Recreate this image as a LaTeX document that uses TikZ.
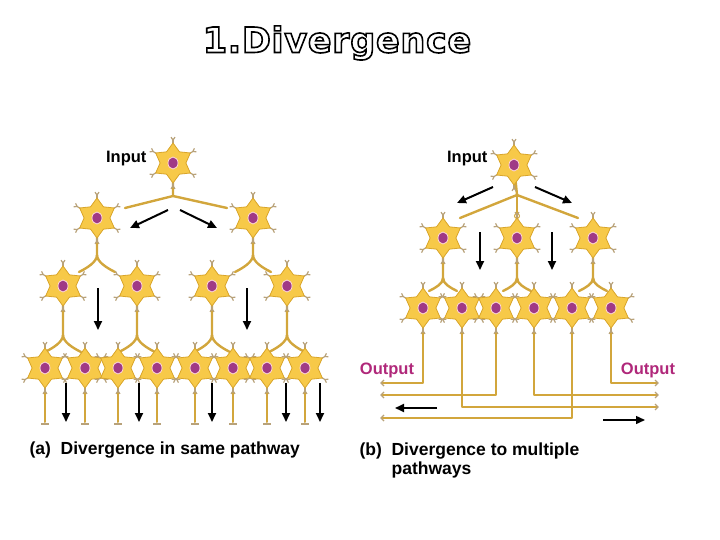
\documentclass[tikz,border=0pt]{standalone}
\usepackage{fontspec}
\setmainfont{Liberation Sans}
\newfontfamily\titlefont[LetterSpace=2]{DejaVu Sans}
\usetikzlibrary{shapes.geometric,arrows.meta}
\definecolor{cell}{HTML}{F7C948}
\definecolor{cellrim}{HTML}{D9A52A}
\definecolor{axon}{HTML}{D2A63C}
\definecolor{nuc}{HTML}{A03A86}
\definecolor{dend}{HTML}{B8A27A}
\definecolor{outc}{HTML}{B0287A}
\tikzset{
  ax/.style={draw=axon,line width=2.4pt,line cap=round,line join=round},
  arr/.style={draw=black,line width=2pt,-{Triangle[length=9pt,width=8pt]}},
  lbl/.style={font=\bfseries\fontsize{16.5}{18}\selectfont},
  pics/neuron/.style={code={
    \foreach \a in {90,150,210,270,330,30}{
      \draw[dend,line width=1.2pt] (\a:16) -- (\a:23);
      \draw[dend,line width=1.2pt] (\a:23) -- ++(\a+35:3.5);
      \draw[dend,line width=1.2pt] (\a:23) -- ++(\a-35:3.5);
    }
    \node[star,star points=6,star point ratio=1.55,minimum size=40pt,fill=cell,draw=cellrim,line width=0.8pt,inner sep=0pt] {};
    \fill[nuc,draw=pink!60!white,line width=0.8pt] (0,0) ellipse (5 and 6);
  }}
}
\begin{document}
\begin{tikzpicture}[x=1pt,y=-1pt]
\useasboundingbox (0,0) rectangle (720,540);
\node[font=\titlefont\bfseries\fontsize{35}{40}\selectfont] (title) at (337,43) {\special{pdf:code 1 Tr 1.6 w}1.Divergence\special{pdf:code 0 Tr}};
%%%% Panel (a)
\draw[ax] (173,163) -- (173,196) -- (125,208);
\draw[ax] (173,196) -- (227,208);
\foreach \x in {97,253}{
  \draw[ax] (\x,218) -- (\x,255) .. controls (\x,262) and (\x-10,268) .. (\x-18,272);
  \draw[ax] (\x,255) .. controls (\x,262) and (\x+10,268) .. (\x+18,272);
}
\foreach \x in {63,137,212,287}{
  \draw[ax] (\x,286) -- (\x,335) .. controls (\x,342) and (\x-10,348) .. (\x-18,352);
  \draw[ax] (\x,335) .. controls (\x,342) and (\x+10,348) .. (\x+18,352);
}
\foreach \x in {45,85,118,157,195,233,267,305}{
  \draw[ax,line width=2pt] (\x,368) -- (\x,422);
  \draw[dend,line width=1.2pt] (\x-4,424) -- (\x+4,424);
}
\foreach \x/\y in {173/163,97/218,253/218,63/286,137/286,212/286,287/286,45/368,85/368,118/368,157/368,195/368,233/368,267/368,305/368}
  \pic at (\x,\y) {neuron};
\draw[arr] (168,210) -- (130,228);
\draw[arr] (180,210) -- (217,228);
\foreach \x in {98,247}{\draw[arr] (\x,288) -- (\x,330);}
\foreach \x in {66,139,212,286,320}{\draw[arr] (\x,383) -- (\x,422);}
\node[lbl,anchor=east] (inA) at (150,159) {Input};
\node[lbl,anchor=west,font=\bfseries\fontsize{17.5}{19}\selectfont] (capA) at (26,450) {(a)\ \ Divergence in same pathway};
%%%% Panel (b)
\draw[ax] (514,165) -- (517,195) -- (460,218);
\draw[ax] (517,195) -- (578,218);
\draw[ax] (517,195) -- (517,215);
\draw[axon,line width=1pt] (517,216) circle (2.5);
\foreach \x in {443,517,593}{
  \draw[ax] (\x,238) -- (\x,278) .. controls (\x,284) and (\x-8,288) .. (\x-14,291);
  \draw[ax] (\x,278) .. controls (\x,284) and (\x+8,288) .. (\x+14,291);
}
\draw[ax,line width=2pt] (423,308) -- (423,383) -- (382,383);
\draw[ax,line width=2pt] (611,308) -- (611,383) -- (657,383);
\draw[ax,line width=2pt] (496,308) -- (496,395) -- (382,395);
\draw[ax,line width=2pt] (534,308) -- (534,395) -- (657,395);
\draw[ax,line width=2pt] (462,308) -- (462,407) -- (657,407);
\draw[ax,line width=2pt] (572,308) -- (572,418) -- (382,418);
\foreach \y in {383,395,418}{\draw[dend,line width=1.2pt] (384,\y-3) -- (381,\y) -- (384,\y+3);}
\foreach \y in {383,395,407}{\draw[dend,line width=1.2pt] (655,\y-3) -- (658,\y) -- (655,\y+3);}
\foreach \x/\y in {514/165,443/238,517/238,593/238,423/308,462/308,496/308,534/308,572/308,611/308}
  \pic at (\x,\y) {neuron};
\draw[arr] (493,187) -- (457,203);
\draw[arr] (535,187) -- (572,203);
\foreach \x in {480,552}{\draw[arr] (\x,232) -- (\x,270);}
\draw[arr] (437,408) -- (395,408);
\draw[arr,line width=1.4pt] (603,420) -- (645,420);
\node[lbl,anchor=east] (inB) at (491,159) {Input};
\node[lbl,text=outc] (outL) at (387,370) {Output};
\node[lbl,text=outc] (outR) at (648,370) {Output};
\node[anchor=north west,align=left,font=\bfseries\fontsize{17.5}{19}\selectfont] (capB) at (356,439) {(b)\ \ Divergence to multiple\\\hphantom{(b)\ \ }pathways};
\end{tikzpicture}
\end{document}
